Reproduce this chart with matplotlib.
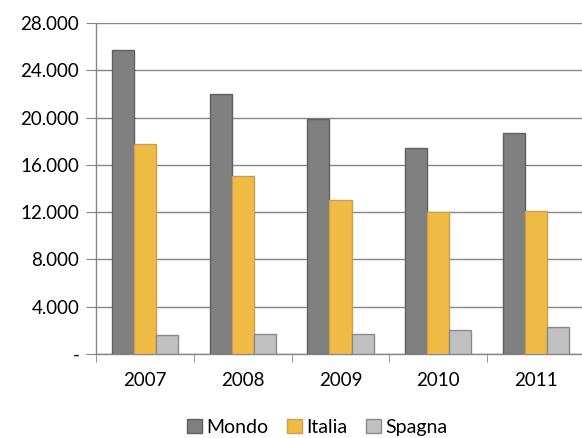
import numpy as np
import matplotlib.pyplot as plt
from matplotlib.ticker import FuncFormatter

years = ['2007', '2008', '2009', '2010', '2011']
mondo = [25700, 21970, 19900, 17450, 18730]
italia = [17770, 15080, 13050, 12040, 12120]
spagna = [1600, 1720, 1720, 2000, 2310]

plt.rcParams['font.family'] = ['Lato', 'DejaVu Sans']

fig = plt.figure(figsize=(5.82, 4.38), dpi=100)
ax = fig.add_axes([96/582, 1-354/438, (585-96)/582, (354-23)/438])

x = np.arange(len(years))
w = 0.225
ax.bar(x - w, mondo, w, color='#808080', edgecolor='#5f5f5f', linewidth=1, label='Mondo', zorder=3)
ax.bar(x, italia, w, color='#f0bb45', edgecolor='#c9a050', linewidth=1, label='Italia', zorder=3)
ax.bar(x + w, spagna, w, color='#c0c0c0', edgecolor='#8a8a8a', linewidth=1, label='Spagna', zorder=3)

ax.set_xlim(-0.5, 4.5)
ax.set_ylim(0, 28000)
ax.set_yticks(np.arange(0, 28001, 4000))
ax.yaxis.set_major_formatter(FuncFormatter(lambda v, p: '-' if v == 0 else f'{int(v):,}'.replace(',', '.')))
ax.set_xticks(x)
ax.set_xticklabels(years)
ax.set_xticks(np.arange(-0.5, 5, 1), minor=True)
ax.tick_params(axis='x', which='major', length=0, pad=13, labelsize=13.5)
ax.tick_params(axis='x', which='minor', length=6, color='#868686', direction='out')
ax.tick_params(axis='y', length=7, color='#868686', labelsize=13.5, pad=5)
ax.grid(axis='y', color='#868686', linewidth=1, zorder=0)
for s in ['top', 'right']:
    ax.spines[s].set_visible(False)
for s in ['left', 'bottom']:
    ax.spines[s].set_color('#868686')
    ax.spines[s].set_linewidth(1)

fig.legend(loc='lower center', bbox_to_anchor=(0.545, -0.035), ncol=3, frameon=False,
           fontsize=14, handlelength=0.75, handleheight=0.75, handletextpad=0.2, columnspacing=1.0)

plt.savefig('out.png', dpi=100)
